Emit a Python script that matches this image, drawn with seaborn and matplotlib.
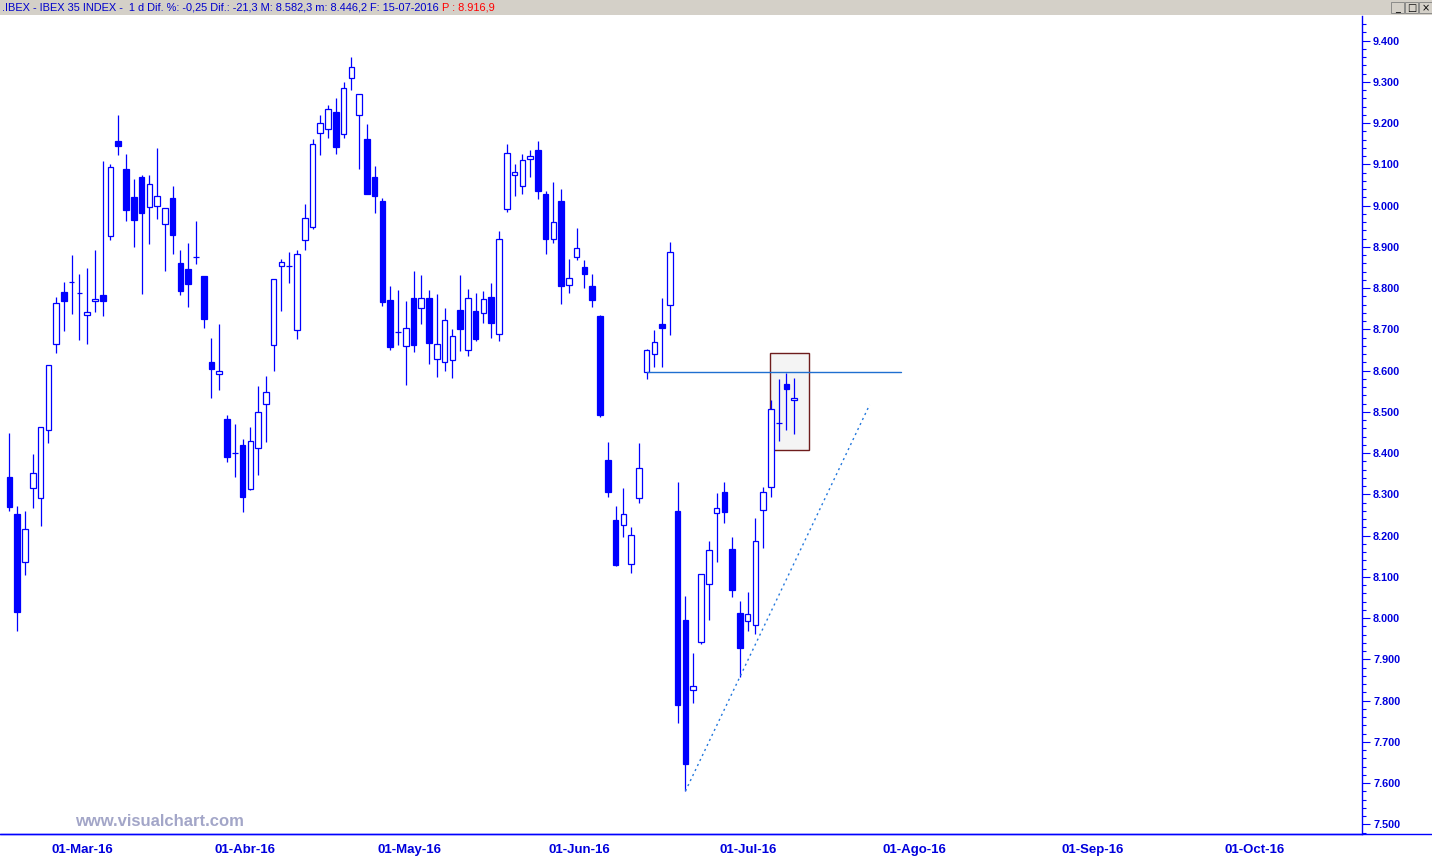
import numpy as np
import pandas as pd
import seaborn as sns
import matplotlib.pyplot as plt
import matplotlib.transforms as mtransforms
from matplotlib.patches import Rectangle
from matplotlib.lines import Line2D
from matplotlib.ticker import MultipleLocator, FuncFormatter

# daily IBEX 35 candles, 23-Feb-2016 .. 15-Jul-2016 (one entry per trading day)
opens = [8341, 8252, 8135, 8315, 8290, 8455, 8664, 8790, 8814, 8787,
         8734, 8768, 8783, 8925, 9156, 9089, 9021, 9069, 8996, 8998,
         8955, 9018, 8861, 8846, 8876, 8829, 8621, 8591, 8483, 8400,
         8420, 8314, 8412, 8518, 8661, 8853, 8853, 8698, 8916, 8947,
         9175, 9185, 9227, 9173, 9308, 9219, 9161, 9069, 9011, 8771,
         8694, 8659, 8776, 8751, 8776, 8627, 8622, 8625, 8747, 8649,
         8744, 8739, 8778, 8688, 8991, 9073, 9047, 9112, 9135, 9028,
         8918, 9011, 8807, 8875, 8851, 8805, 8732, 8383, 8238, 8225,
         8130, 8290, 8596, 8640, 8713, 8758, 8259, 7995, 7825, 7943,
         8082, 8254, 8305, 8167, 8012, 7994, 7983, 8261, 8317, 8474,
         8567, 8528]
highs = [8449, 8272, 8260, 8398, 8463, 8613, 8778, 8814, 8880, 8834,
         8848, 8892, 9108, 9100, 9219, 9125, 9064, 9074, 9074, 9140,
         8993, 9047, 8892, 8909, 8963, 8829, 8679, 8713, 8492, 8471,
         8434, 8463, 8563, 8587, 8822, 8870, 8887, 8892, 9004, 9161,
         9219, 9244, 9261, 9299, 9360, 9270, 9198, 9096, 9018, 8805,
         8795, 8769, 8841, 8832, 8795, 8786, 8752, 8701, 8832, 8798,
         8788, 8793, 8812, 8938, 9149, 9101, 9125, 9135, 9156, 9035,
         9057, 9040, 8870, 8946, 8868, 8834, 8735, 8427, 8272, 8315,
         8221, 8424, 8652, 8698, 8775, 8911, 8330, 8053, 7915, 8107,
         8186, 8304, 8329, 8196, 8041, 8063, 8243, 8317, 8529, 8580,
         8595, 8582.3]
lows = [8260, 7970, 8105, 8268, 8224, 8425, 8643, 8697, 8738, 8675,
        8665, 8743, 8733, 8917, 9123, 8963, 8900, 8786, 8908, 8968,
        8842, 8883, 8784, 8755, 8859, 8702, 8534, 8554, 8379, 8343,
        8258, 8311, 8348, 8428, 8600, 8745, 8813, 8677, 8893, 8944,
        9123, 9164, 9126, 9164, 9281, 9089, 9029, 8983, 8757, 8651,
        8662, 8566, 8646, 8714, 8617, 8585, 8600, 8583, 8648, 8636,
        8672, 8716, 8680, 8672, 8985, 9024, 9029, 9070, 9017, 8883,
        8910, 8761, 8789, 8869, 8801, 8755, 8488, 8294, 8126, 8196,
        8110, 8280, 8580, 8609, 8609, 8687, 7747, 7581, 7795, 7938,
        7996, 8137, 8231, 8052, 7858, 7970, 7962, 8170, 8294, 8430,
        8457, 8446.2]
closes = [8270, 8016, 8215, 8351, 8463, 8613, 8765, 8769, 8814, 8787,
          8741, 8773, 8769, 9093, 9145, 8990, 8966, 8983, 9052, 9022,
          8993, 8929, 8794, 8811, 8876, 8726, 8605, 8598, 8391, 8400,
          8294, 8429, 8499, 8547, 8822, 8862, 8853, 8882, 8971, 9148,
          9199, 9233, 9143, 9284, 9335, 9270, 9029, 9024, 8767, 8658,
          8694, 8703, 8663, 8776, 8668, 8664, 8722, 8683, 8701, 8775,
          8677, 8773, 8716, 8918, 9127, 9081, 9110, 9119, 9036, 8920,
          8959, 8804, 8824, 8896, 8835, 8772, 8493, 8306, 8129, 8252,
          8201, 8363, 8649, 8669, 8704, 8887, 7790, 7647, 7835, 8107,
          8165, 8268, 8258, 8069, 7928, 8010, 8186, 8305, 8506, 8474,
          8554.5, 8533.2]

# first trading day of each month (bar index) and its label
month_days = [5, 26, 47, 69, 91, 112, 135, 156]
month_labels = ["01-Mar-16", "01-Abr-16", "01-May-16", "01-Jun-16",
                "01-Jul-16", "01-Ago-16", "01-Sep-16", "01-Oct-16"]

# drawn studies
support_days = [82, 114.8]
support_level = [8596, 8596]
trend_days = [87, 110.7]
trend_prices = [7581, 8517]
box_days = [97.9, 102.9]
box_prices = [8406.8, 8641.9]

df = pd.DataFrame({"day": np.arange(len(opens)), "open": opens, "high": highs,
                   "low": lows, "close": closes})
df["up"] = df["close"] >= df["open"]

sns.set_style("white")
plt.rcParams["font.family"] = ["Liberation Sans", "DejaVu Sans"]

BLUE = "#0000ff"
W, H = 1432, 857
fig = plt.figure(figsize=(W / 100, H / 100), dpi=100)
ax = fig.add_axes([0, 23 / H, 1362 / W, 818 / H])

# wicks and bodies
ax.vlines(df["day"], df["low"], df["high"], color=BLUE, lw=0.9, zorder=2)
body_lo = df[["open", "close"]].min(axis=1)
body_h = (df["close"] - df["open"]).abs()
face = np.where(df["up"], "white", BLUE)
ax.bar(df["day"], body_h, bottom=body_lo, width=0.72, color=face,
       edgecolor=BLUE, linewidth=0.9, zorder=3)

# studies
ax.add_patch(Rectangle((box_days[0], box_prices[0]), box_days[1] - box_days[0],
                       box_prices[1] - box_prices[0], facecolor="#f4f4f4",
                       edgecolor="#6e1c1c", lw=1, zorder=1))
sns.lineplot(x=support_days, y=support_level, color="#1f6fd0", lw=1, ax=ax, zorder=4)
sns.lineplot(x=trend_days, y=trend_prices, color="#2277dd", lw=1,
             linestyle=(0, (1.5, 2.5)), ax=ax, zorder=4)

ax.set_xlim(-1.22, 174.07)
ax.set_ylim(7476.8, 9459.4)

# right price axis
ax.yaxis.tick_right()
ax.set_yticks(np.arange(7500, 9401, 100))
ax.yaxis.set_minor_locator(MultipleLocator(20))
ax.yaxis.set_major_formatter(FuncFormatter(lambda v, p: f"{v:,.0f}".replace(",", ".")))
ax.tick_params(axis="y", which="major", length=6, width=0.8, color=BLUE,
               labelcolor="#0000dd", labelsize=7.8, pad=2)
ax.tick_params(axis="y", which="minor", length=3, width=0.8, color=BLUE)
for lbl in ax.get_yticklabels():
    lbl.set_fontweight("bold")

# bottom date axis
ax.set_xticks(month_days)
ax.set_xticklabels(month_labels)
ax.tick_params(axis="x", which="major", length=6, width=0.8, color=BLUE,
               labelcolor="#0000dd", labelsize=9.5, pad=1.5)
shift = mtransforms.ScaledTranslation(2 / 72, 0, fig.dpi_scale_trans)
for lbl in ax.get_xticklabels():
    lbl.set_fontweight("bold")
    lbl.set_horizontalalignment("left")
    lbl.set_transform(lbl.get_transform() + shift)

ax.set_xlabel("")
ax.set_ylabel("")
for s in ["top", "left"]:
    ax.spines[s].set_visible(False)
for s in ["right", "bottom"]:
    ax.spines[s].set_color(BLUE)
    ax.spines[s].set_linewidth(1.0)
fig.add_artist(Line2D([0, 1], [23 / H, 23 / H], color=BLUE, lw=1.0,
                      transform=fig.transFigure))

# header bar (drawn below the axes so the annotation stays visible)
fig.add_artist(Rectangle((0, 1 - 15 / H), 1, 15 / H, transform=fig.transFigure,
                         facecolor="#d4d0c8", edgecolor="none", zorder=-1))
head = fig.text(2 / W, 1 - 8 / H,
                ".IBEX - IBEX 35 INDEX -  1 d Dif. %: -0,25 Dif.: -21,3 M: 8.582,3 "
                "m: 8.446,2 F: 15-07-2016 ",
                color="#0000cc", fontsize=7.9, va="center", ha="left")
ax.annotate("P : 8.916,9", xy=(1, 0.5), xycoords=head, va="center", ha="left",
            color="#ff0000", fontsize=7.9, annotation_clip=False)

# window buttons
for i, glyph in enumerate(["_", "\u25a1", "\u00d7"]):
    x0 = (1391 + i * 14) / W
    fig.add_artist(Rectangle((x0, 1 - 13 / H), 13 / W, 11 / H, transform=fig.transFigure,
                             facecolor="#d4d0c8", edgecolor="#808080", lw=0.6))
    fig.text(x0 + 6.5 / W, 1 - 8 / H, glyph, fontsize=7, ha="center", va="center",
             color="black", family=["DejaVu Sans"])

# watermark
fig.text(75 / W, 1 - 821 / H, "www.visualchart.com", color="#a3a6c8",
         fontsize=12, fontweight="bold", va="center", ha="left")

fig.savefig("out.png", dpi=100)
